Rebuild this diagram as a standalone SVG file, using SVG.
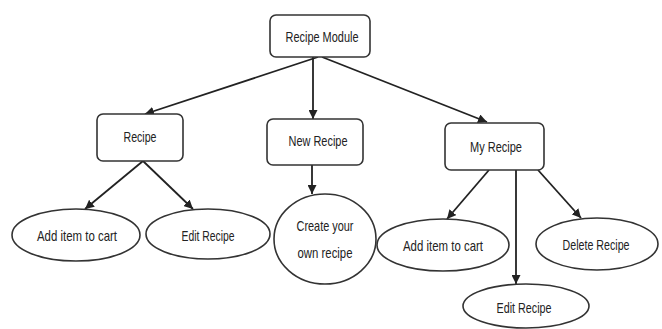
<svg xmlns="http://www.w3.org/2000/svg" width="662" height="329" viewBox="0 0 662 329">
<style>
.box{fill:#fff;stroke:#333;stroke-width:1.6}
.t{font-family:"Liberation Sans",Arial,sans-serif;font-size:15px;fill:#222;text-anchor:middle}
.c{stroke:#222;stroke-width:1.8;fill:none;marker-end:url(#ah)}
</style>
<defs>
<marker id="ah" viewBox="0 0 10 10" refX="10" refY="5" markerWidth="5" markerHeight="5" orient="auto" markerUnits="strokeWidth">
<path d="M0,0 L10,5 L0,10 z" fill="#222"/>
</marker>
</defs>
<rect width="662" height="329" fill="#fff"/>
<g id="connectors">
<line class="c" x1="318" y1="57" x2="145" y2="114"/>
<line class="c" x1="313" y1="57" x2="313" y2="119"/>
<line class="c" x1="322" y1="57" x2="487" y2="122"/>
<line class="c" x1="143" y1="161" x2="85" y2="209"/>
<line class="c" x1="143" y1="161" x2="193" y2="209"/>
<line class="c" x1="312" y1="165" x2="312" y2="194"/>
<line class="c" x1="489" y1="170" x2="447" y2="219"/>
<line class="c" x1="516" y1="170" x2="516" y2="284"/>
<line class="c" x1="538" y1="170" x2="581" y2="218"/>
</g>
<g id="recipe-module">
<rect class="box" x="270" y="15" width="100" height="42" rx="6"/>
<text class="t" x="322" y="42" textLength="73" lengthAdjust="spacingAndGlyphs">Recipe Module</text>
</g>
<g id="recipe">
<rect class="box" x="97" y="114" width="86" height="47" rx="6"/>
<text class="t" x="140" y="142" textLength="33" lengthAdjust="spacingAndGlyphs">Recipe</text>
</g>
<g id="new-recipe">
<rect class="box" x="267" y="119" width="96" height="46" rx="6"/>
<text class="t" x="318" y="146" textLength="59" lengthAdjust="spacingAndGlyphs">New Recipe</text>
</g>
<g id="my-recipe">
<rect class="box" x="445" y="123" width="99" height="47" rx="6"/>
<text class="t" x="496" y="152" textLength="52" lengthAdjust="spacingAndGlyphs">My Recipe</text>
</g>
<g id="add-cart-1">
<ellipse class="box" cx="76" cy="235" rx="64" ry="26"/>
<text class="t" x="77" y="241" textLength="80" lengthAdjust="spacingAndGlyphs">Add item to cart</text>
</g>
<g id="edit-recipe-1">
<ellipse class="box" cx="208" cy="234" rx="62" ry="25"/>
<text class="t" x="208" y="241" textLength="53" lengthAdjust="spacingAndGlyphs">Edit Recipe</text>
</g>
<g id="create-own">
<ellipse class="box" cx="325" cy="239" rx="51" ry="45"/>
<text class="t" x="325" y="231" textLength="57" lengthAdjust="spacingAndGlyphs">Create your</text>
<text class="t" x="325" y="258" textLength="55" lengthAdjust="spacingAndGlyphs">own recipe</text>
</g>
<g id="add-cart-2">
<ellipse class="box" cx="443" cy="245" rx="66" ry="26"/>
<text class="t" x="443" y="251" textLength="80" lengthAdjust="spacingAndGlyphs">Add item to cart</text>
</g>
<g id="delete-recipe">
<ellipse class="box" cx="597" cy="244" rx="61" ry="26"/>
<text class="t" x="596" y="250" textLength="67" lengthAdjust="spacingAndGlyphs">Delete Recipe</text>
</g>
<g id="edit-recipe-2">
<ellipse class="box" cx="526" cy="306" rx="63" ry="22"/>
<text class="t" x="524" y="313" textLength="55" lengthAdjust="spacingAndGlyphs">Edit Recipe</text>
</g>
</svg>
